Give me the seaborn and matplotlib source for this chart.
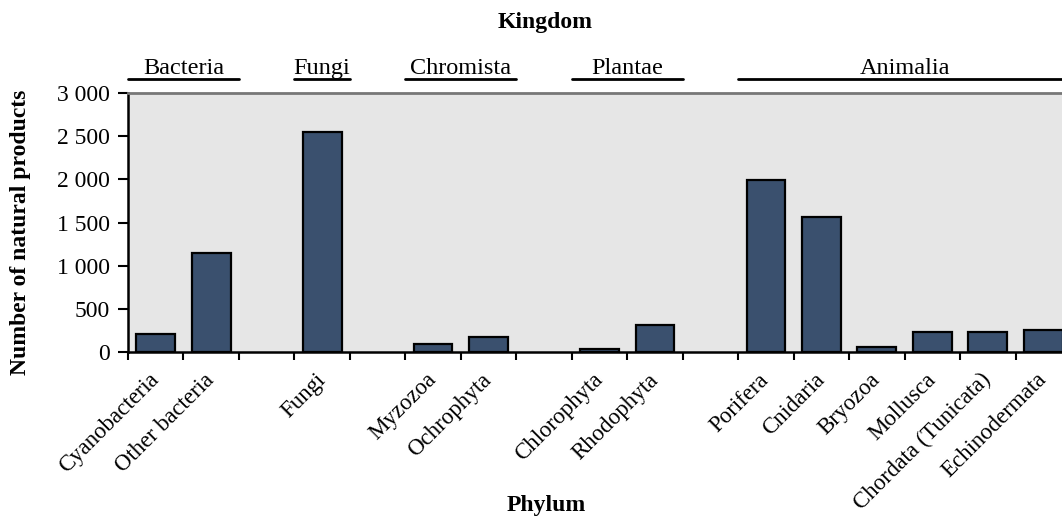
import numpy as np
import pandas as pd
import matplotlib
matplotlib.use("Agg")
import matplotlib.pyplot as plt
import matplotlib.transforms as mtransforms
import seaborn as sns

# data
phyla = ["Cyanobacteria", "Other bacteria", "Fungi", "Myzozoa", "Ochrophyta",
         "Chlorophyta", "Rhodophyta", "Porifera", "Cnidaria", "Bryozoa",
         "Mollusca", "Chordata (Tunicata)", "Echinodermata"]
kingdoms = ["Bacteria", "Bacteria", "Fungi", "Chromista", "Chromista",
            "Plantae", "Plantae", "Animalia", "Animalia", "Animalia",
            "Animalia", "Animalia", "Animalia"]
counts = [200, 1150, 2550, 85, 175, 35, 310, 1990, 1565, 60, 228, 228, 252]
kingdom_order = ["Bacteria", "Fungi", "Chromista", "Plantae", "Animalia"]
ytick_vals = [0, 500, 1000, 1500, 2000, 2500, 3000]
ytick_labels = ["0", "500", "1 000", "1 500", "2 000", "2 500", "3 000"]

df = pd.DataFrame({"phylum": phyla, "kingdom": kingdoms, "count": counts})

# category order with an empty slot between kingdoms
order = []
groups = {}
for i, k in enumerate(kingdom_order):
    if i > 0:
        order.append(" " * i)
    members = [p for p, kk in zip(phyla, kingdoms) if kk == k]
    groups[k] = (len(order), len(order) + len(members) - 1)
    order.extend(members)

sns.set_theme(style="white")
plt.rcParams["font.family"] = ["Liberation Serif", "DejaVu Serif"]
plt.rcParams["text.color"] = "black"
plt.rcParams["xtick.color"] = "black"
plt.rcParams["ytick.color"] = "black"

fig = plt.figure(figsize=(10.62, 5.17), dpi=100)
ax = fig.add_axes([0.1205, 0.3197, 0.888, 0.4998])
ax.set_facecolor("#E6E6E6")

sns.barplot(data=df, x="phylum", y="count", order=order, ax=ax,
            color="#3A506E", saturation=1, width=0.7,
            edgecolor="black", linewidth=1.6)

ax.set_xlim(-0.5, len(order) - 0.5)
ax.set_ylim(0, 3000)
ax.set_yticks(ytick_vals)
ax.set_yticklabels(ytick_labels, fontsize=17)

# labels at bar centres, tick marks at slot boundaries
ax.set_xticks(range(len(order)))
ax.set_xticklabels(order, rotation=45, ha="right", va="center",
                   rotation_mode="anchor", fontsize=16.5)
ax.set_xticks(np.arange(-0.5, len(order), 1), minor=True)
ax.tick_params(axis="x", which="major", length=0, pad=18)
ax.tick_params(axis="x", which="minor", length=6, width=1.5,
               direction="out", bottom=True)
ax.tick_params(axis="y", length=7, width=1.5, direction="out",
               left=True, pad=6)
ax.set_xlabel("")
ax.set_ylabel("")

for s in ["left", "bottom"]:
    ax.spines[s].set_color("black")
    ax.spines[s].set_linewidth(1.8)
ax.spines["top"].set_color("#777777")
ax.spines["top"].set_linewidth(2)
ax.spines["right"].set_visible(False)

# kingdom labels with underlines
trans = mtransforms.blended_transform_factory(ax.transData, ax.transAxes)
for k in kingdom_order:
    a, b = groups[k]
    x0, x1 = a - 0.5, b + 0.5
    if k == "Animalia":
        x1 = b + 1.0
    ax.plot([x0, x1], [1.056, 1.056], color="black", lw=2,
            transform=trans, clip_on=False)
    ax.text((a + b) / 2, 1.075, k, transform=trans, ha="center",
            va="baseline", fontsize=17.5)

fig.text(0.513, 0.957, "Kingdom", ha="center", va="center",
         fontsize=17, fontweight="bold")
fig.text(0.514, 0.023, "Phylum", ha="center", va="center",
         fontsize=17, fontweight="bold")
fig.text(0.019, 0.551, "Number of natural products", rotation=90,
         ha="center", va="center", fontsize=17, fontweight="bold")

fig.savefig("out.png", dpi=100)
